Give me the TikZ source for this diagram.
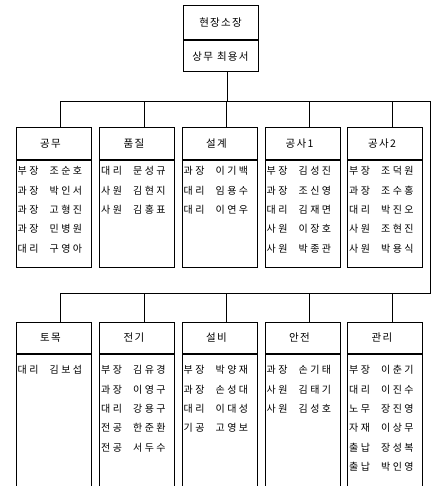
\documentclass[tikz,border=0pt]{standalone}
\usepackage{fontspec}
\newfontfamily\kr[LetterSpace=24]{Noto Sans CJK KR}
\newfontfamily\krh[LetterSpace=12]{Noto Sans CJK KR}
\newcommand\pr[2]{\makebox[32pt][l]{#1}#2}
\begin{document}
\begin{tikzpicture}[x=1pt,y=-1pt,
  box/.style={draw, line width=1pt, minimum width=75pt, inner sep=0pt},
  hdr/.style={box, font=\krh\fontsize{10.5}{12}\selectfont},
  bdy/.style={box, anchor=north},
  lst/.style={anchor=north west, align=left, inner sep=0pt, font=\kr\fontsize{10}{19.3}\selectfont},
  wire/.style={line width=0.9pt}]
\useasboundingbox (0,0) rectangle (436,486);
% chief
\node[hdr, minimum height=34pt] (chief) at (220.5,23) {현장소장};
\node[bdy, minimum height=31pt] (chiefB) at (chief.south) {};
\node[font=\krh\fontsize{10.5}{12}\selectfont, inner sep=0pt] (chiefT) at (chiefB.center) {상무\hspace{4pt}최용서};
% bus coordinates
\coordinate (b1L) at (60,101);
\coordinate (b1R) at (430,101);
\coordinate (b2L) at (60,293);
\coordinate (b2R) at (430,293);
% row 1
\foreach \n/\x/\t in {gm/53.5/공무, pj/137/품질, sg/219.5/설계, ga/302.5/공사1, gb/385/공사2}{
  \node[box, minimum height=32pt] (\n) at (\x,144) {};
  \node[hdr, draw=none, minimum width=0pt] at ([xshift=-3pt]\n.center) {\t};
  \node[bdy, minimum height=106pt] (\n B) at (\n.south) {};
}
% row 2
\foreach \n/\x/\t in {tm/53.5/토목, jg/137/전기, sb/219.5/설비, aj/302.5/안전, gr/385/관리}{
  \node[box, minimum height=31pt] (\n) at (\x,337.5) {};
  \node[hdr, draw=none, minimum width=0pt] at ([xshift=-3pt]\n.center) {\t};
  \node[bdy, minimum height=132pt] (\n B) at (\n.south) {};
}
% lists row 1
\node[lst] (gmL) at ([xshift=2pt,yshift=-6pt]gmB.north west) {\pr{부장}{조순호}\\\pr{과장}{박인서}\\\pr{과장}{고형진}\\\pr{과장}{민병원}\\\pr{대리}{구영아}};
\node[lst] (pjL) at ([xshift=2pt,yshift=-6pt]pjB.north west) {\pr{대리}{문성규}\\\pr{사원}{김현지}\\\pr{사원}{김홍표}};
\node[lst] (sgL) at ([xshift=2pt,yshift=-6pt]sgB.north west) {\pr{과장}{이기백}\\\pr{대리}{임용수}\\\pr{대리}{이연우}};
\node[lst] (gaL) at ([xshift=2pt,yshift=-6pt]gaB.north west) {\pr{부장}{김성진}\\\pr{과장}{조신영}\\\pr{대리}{김재면}\\\pr{사원}{이장호}\\\pr{사원}{박종관}};
\node[lst] (gbL) at ([xshift=2pt,yshift=-6pt]gbB.north west) {\pr{부장}{조덕원}\\\pr{과장}{조수홍}\\\pr{대리}{박진오}\\\pr{사원}{조현진}\\\pr{사원}{박용식}};
% lists row 2
\node[lst] (tmL) at ([xshift=2pt,yshift=-12pt]tmB.north west) {\pr{대리}{김보섭}};
\node[lst] (jgL) at ([xshift=2pt,yshift=-12pt]jgB.north west) {\pr{부장}{김유경}\\\pr{과장}{이영구}\\\pr{대리}{강용구}\\\pr{전공}{한준환}\\\pr{전공}{서두수}};
\node[lst] (sbL) at ([xshift=2pt,yshift=-12pt]sbB.north west) {\pr{부장}{박양재}\\\pr{과장}{손성대}\\\pr{대리}{이대성}\\\pr{기공}{고영보}};
\node[lst] (ajL) at ([xshift=2pt,yshift=-12pt]ajB.north west) {\pr{과장}{손기태}\\\pr{사원}{김태기}\\\pr{사원}{김성호}};
\node[lst] (grL) at ([xshift=2pt,yshift=-12pt]grB.north west) {\pr{부장}{이춘기}\\\pr{대리}{이진수}\\\pr{노무}{장진영}\\\pr{자재}{이상무}\\\pr{출납}{장성복}\\\pr{출납}{박인영}};
% connectors
\draw[wire] ([xshift=6.5pt]chiefB.south) -- ([xshift=6.5pt]chiefB.south |- b1L);
\draw[wire] (b1L) -- (b1R) -- (b2R) -- (b2L);
\foreach \n in {gm,pj,sg,ga,gb}{
  \draw[wire] ([xshift=7pt]\n.north) -- ([xshift=7pt]\n.north |- b1L);
}
\foreach \n in {tm,jg,sb,aj,gr}{
  \draw[wire] ([xshift=7pt]\n.north) -- ([xshift=7pt]\n.north |- b2L);
}
\end{tikzpicture}
\end{document}
